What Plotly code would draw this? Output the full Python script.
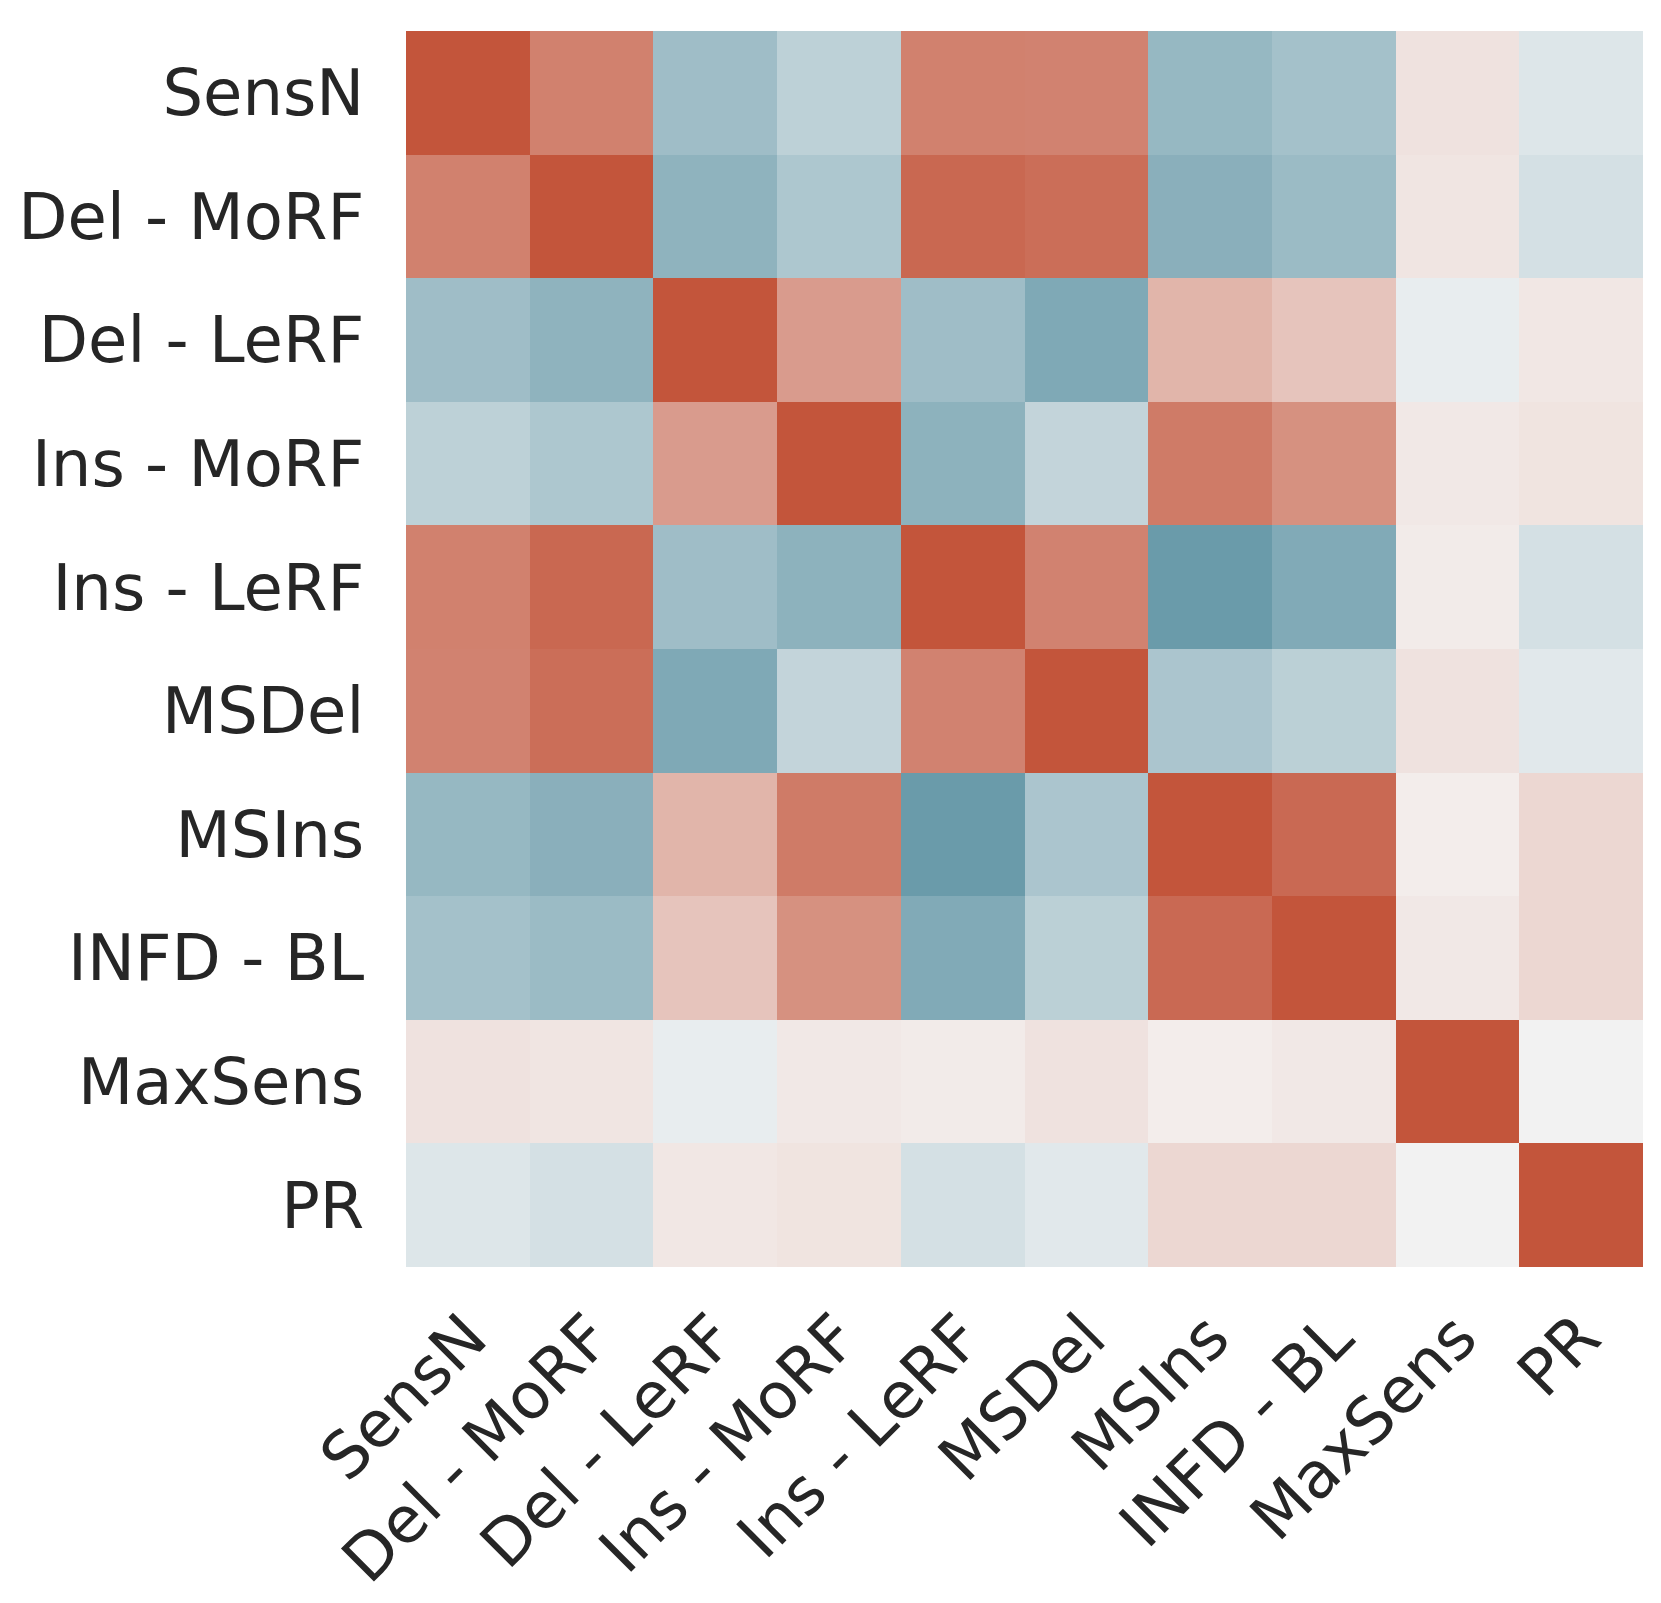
import plotly.graph_objects as go

labels = ["SensN", "Del - MoRF", "Del - LeRF", "Ins - MoRF", "Ins - LeRF",
          "MSDel", "MSIns", "INFD - BL", "MaxSens", "PR"]

# correlations
row_sensn = [1.00, 0.72, -0.46, -0.29, 0.72, 0.71, -0.51, -0.43, 0.10, -0.11]
row_delmorf = [0.72, 1.00, -0.55, -0.38, 0.88, 0.84, -0.58, -0.48, 0.08, -0.16]
row_dellerf = [-0.46, -0.55, 1.00, 0.55, -0.46, -0.64, 0.39, 0.29, -0.05, 0.07]
row_insmorf = [-0.29, -0.38, 0.55, 1.00, -0.56, -0.26, 0.76, 0.62, 0.06, 0.09]
row_inslerf = [0.72, 0.88, -0.46, -0.56, 1.00, 0.71, -0.76, -0.63, 0.04, -0.16]
row_msdel = [0.71, 0.84, -0.64, -0.26, 0.71, 1.00, -0.39, -0.30, 0.10, -0.09]
row_msins = [-0.51, -0.58, 0.39, 0.76, -0.76, -0.39, 1.00, 0.87, 0.03, 0.17]
row_infd = [-0.43, -0.48, 0.29, 0.62, -0.63, -0.30, 0.87, 1.00, 0.06, 0.17]
row_maxsens = [0.10, 0.08, -0.05, 0.06, 0.04, 0.10, 0.03, 0.06, 1.00, 0.00]
row_pr = [-0.11, -0.16, 0.07, 0.09, -0.16, -0.09, 0.17, 0.17, 0.00, 1.00]

z = [row_sensn, row_delmorf, row_dellerf, row_insmorf, row_inslerf,
     row_msdel, row_msins, row_infd, row_maxsens, row_pr]

colorscale = [
    [0.0, "rgb(63,127,147)"],
    [0.498, "rgb(240,242,243)"],
    [0.5, "rgb(242,242,242)"],
    [0.502, "rgb(244,241,240)"],
    [1.0, "rgb(195,85,59)"],
]

fig = go.Figure(go.Heatmap(
    z=z, x=labels, y=labels, zmin=-1, zmax=1,
    colorscale=colorscale, showscale=False, hoverongaps=False,
))

font = dict(family="DejaVu Sans", size=64, color="#262626")
fig.update_layout(
    width=1661, height=1603, autosize=False,
    margin=dict(l=398, r=26, t=23, b=344),
    paper_bgcolor="white", plot_bgcolor="white",
    font=font,
)
fig.update_xaxes(tickangle=-45, showgrid=False, zeroline=False, showline=False,
                 ticks="outside", ticklen=6, tickcolor="rgba(0,0,0,0)",
                 tickfont=font, automargin=False)
fig.update_yaxes(autorange="reversed", showgrid=False, zeroline=False, showline=False,
                 ticks="outside", ticklen=28, tickcolor="rgba(0,0,0,0)",
                 tickfont=font, automargin=False)

fig.write_html("out.html")
